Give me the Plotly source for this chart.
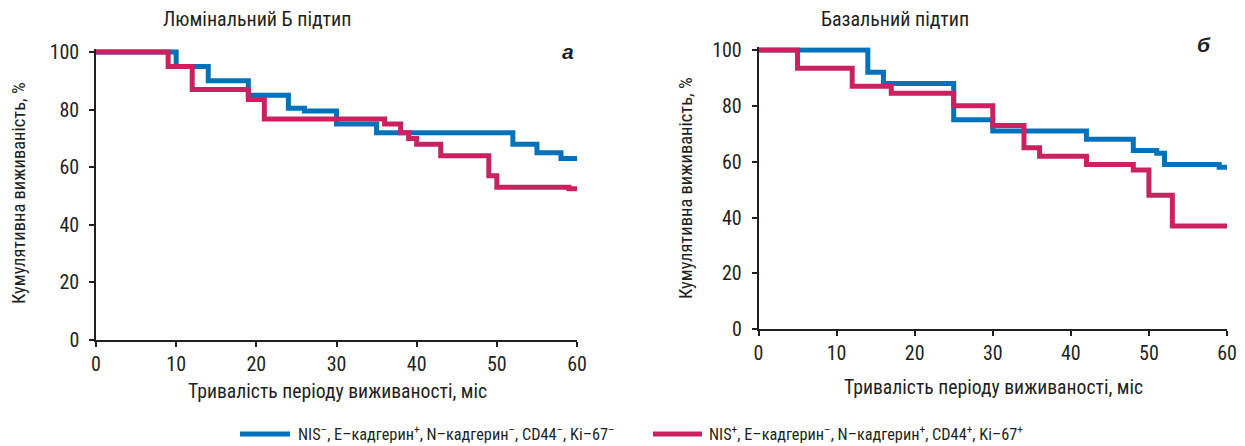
import plotly.graph_objects as go

# Luminal B subtype (panel a)
lum_blue_t = [0, 10, 14, 19, 24, 26, 30, 35, 52, 55, 58, 60]
lum_blue_s = [100, 95, 90, 85, 80.5, 79.5, 75, 72, 68, 65, 63, 63]
lum_red_t = [0, 9, 12, 19, 21, 36, 38, 39, 40, 43, 49, 50, 58, 59, 60]
lum_red_s = [100, 95, 87, 83.5, 76.7, 75, 72, 70, 68, 64, 57, 53, 53, 52.5, 52]

# Basal subtype (panel b)
bas_blue_t = [0, 14, 16, 25, 30, 42, 48, 51, 52, 59, 60]
bas_blue_s = [100, 92, 88, 75, 71, 68, 64, 63, 59, 58, 58]
bas_red_t = [0, 5, 12, 17, 25, 30, 34, 36, 42, 48, 50, 53, 60]
bas_red_s = [100, 93.5, 87, 84.5, 80, 73, 65, 62, 59, 57, 48, 37, 37]

x_ticks = [0, 10, 20, 30, 40, 50, 60]
y_ticks = [0, 20, 40, 60, 80, 100]

name_blue = "NIS<sup>–</sup>, E–кадгерин<sup>+</sup>, N–кадгерин<sup>–</sup>, CD44<sup>–</sup>, Ki–67<sup>–</sup>"
name_red = "NIS<sup>+</sup>, E–кадгерин<sup>–</sup>, N–кадгерин<sup>+</sup>, CD44<sup>+</sup>, Ki–67<sup>+</sup>"

BLUE = "#0072bb"
RED = "#cb2160"
FONT = "Roboto Condensed, Liberation Sans Narrow, Arial Narrow, sans-serif"
AX = "#231f20"

fig = go.Figure()
for t, s, c, nm, xa, ya in [
    (lum_blue_t, lum_blue_s, BLUE, name_blue, "x", "y"),
    (lum_red_t, lum_red_s, RED, name_red, "x", "y"),
    (bas_blue_t, bas_blue_s, BLUE, name_blue, "x2", "y2"),
    (bas_red_t, bas_red_s, RED, name_red, "x2", "y2"),
]:
    fig.add_trace(go.Scatter(x=t, y=s, mode="lines", line=dict(color=c, width=5, shape="hv"),
                             name=nm, xaxis=xa, yaxis=ya, showlegend=False))

# page body adds an 8px offset; the figure is sized so it ends at the window edge
OFF = 8
W, H = 1245 - OFF, 446 - OFF

def px(v):
    return (v - OFF) / W

def py(v):
    return 1 - (v - OFF) / H

axis_common = dict(showline=True, linecolor=AX, linewidth=1.5, ticks="outside", ticklen=5,
                   tickcolor=AX, tickwidth=1.5, showgrid=False, zeroline=False, automargin=False,
                   tickfont=dict(family=FONT, size=20, color="#231f20"), fixedrange=True)

fig.update_layout(
    width=W, height=H,
    margin=dict(l=0, r=0, t=0, b=0, autoexpand=False),
    paper_bgcolor="white", plot_bgcolor="white",
    font=dict(family=FONT, color="#231f20"),
    xaxis=dict(domain=[px(96), px(577)], range=[0, 60], tickvals=x_ticks, anchor="y",
               ticklabelstandoff=0, **axis_common),
    yaxis=dict(domain=[py(340), py(49.1)], range=[0, 101], tickvals=y_ticks, anchor="x",
               ticklabelstandoff=6, **axis_common),
    xaxis2=dict(domain=[px(758.5), px(1227)], range=[0, 60], tickvals=x_ticks, anchor="y2",
                ticklabelstandoff=0, **axis_common),
    yaxis2=dict(domain=[py(329.3), py(47.2)], range=[0, 101], tickvals=y_ticks, anchor="x2",
                ticklabelstandoff=6, **axis_common),
    showlegend=False,
)

ann = [
    dict(text="Люмінальний Б підтип", x=px(257), y=py(19), size=20),
    dict(text="Базальний підтип", x=px(895), y=py(19), size=20),
    dict(text="Кумулятивна виживаність, %", x=px(19), y=py(193), textangle=-90, size=18.5),
    dict(text="Кумулятивна виживаність, %", x=px(686), y=py(188), textangle=-90, size=18.5),
    dict(text="Тривалість періоду виживаності, міс", x=px(337), y=py(391), size=19.7),
    dict(text="Тривалість періоду виживаності, міс", x=px(993), y=py(387), size=19.7),
]
for a in ann:
    size = a.pop("size")
    fig.add_annotation(xref="paper", yref="paper", showarrow=False, xanchor="center", yanchor="middle",
                       font=dict(family=FONT, size=size, color="#231f20"), **a)

for lbl, lx, ly in [("а", 568, 51), ("б", 1204, 45)]:
    fig.add_annotation(xref="paper", yref="paper", x=px(lx), y=py(ly), text="<b><i>" + lbl + "</i></b>",
                       showarrow=False, xanchor="center", yanchor="middle",
                       font=dict(family="Liberation Sans, Arial, sans-serif", size=21, color="#231f20"))

# legend drawn manually (line samples + labels)
legend_items = [(BLUE, name_blue, 240, 290, 296), (RED, name_red, 653, 702, 707)]
for col, label, x0, x1, xt in legend_items:
    fig.add_shape(type="line", xref="paper", yref="paper", x0=px(x0), x1=px(x1), y0=py(434), y1=py(434),
                  line=dict(color=col, width=5))
    fig.add_annotation(xref="paper", yref="paper", x=px(xt), y=py(433), text=label, showarrow=False,
                       xanchor="left", yanchor="middle",
                       font=dict(family=FONT, size=16.3, color="#231f20"))

fig.write_html("out.html")
